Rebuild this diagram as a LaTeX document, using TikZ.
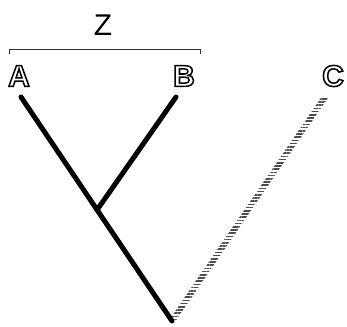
\documentclass[tikz,border=0pt]{standalone}
\usepackage{fontspec}
\setmainfont{Liberation Sans}
\usepackage{tikz}
\usetikzlibrary{calc, patterns.meta}
\usepackage{tkz-euclide}
\usepackage{xcolor}
\newcommand{\hollow}[1]{\special{pdf:literal 1 Tr 1.5 w}\textbf{#1}\special{pdf:literal 0 Tr 1 w}}

\begin{document}
\begin{tikzpicture}[x = 1pt, y = 1pt,
    leaf/.style = {font = \fontsize{30}{30}\selectfont, inner sep = 0pt},
    branch/.style = {black, line width = 5pt},
    hatch/.style = {pattern = {Lines[angle = 0, distance = 3.2pt, line width = 1.6pt]},
                    pattern color = black!70}]
            \useasboundingbox (0,0) rectangle (347,326);
            \tkzDefPoints{21/229/a, 176/229/b, 97/116/J, 172/5/R}
            \tkzDefPoints{321.5/229/cl, 328.5/229/cr, 168.5/5/Rl, 175.5/5/Rr}
            \tkzDefPoints{9/272/s, 9/276/sl, 200/276/sr, 200/272/e}
            % leaves
            \node[leaf] (A) at (19,250) {\hollow{A}};
            \node[leaf] (B) at (184,250) {\hollow{B}};
            \node[leaf] (C) at (333,250) {\hollow{C}};
            \node[leaf] (Z) at (103,301) {Z};
            % bracket over A and B
            \draw[black!80, line width = 1pt] (s) -- (sl) -- (sr) -- (e);
            % tree
            \fill[hatch] (cl) -- (cr) -- (Rr) -- (Rl) -- cycle;
            \tkzDrawSegments[branch](a,R b,J)
        \end{tikzpicture}
\end{document}
